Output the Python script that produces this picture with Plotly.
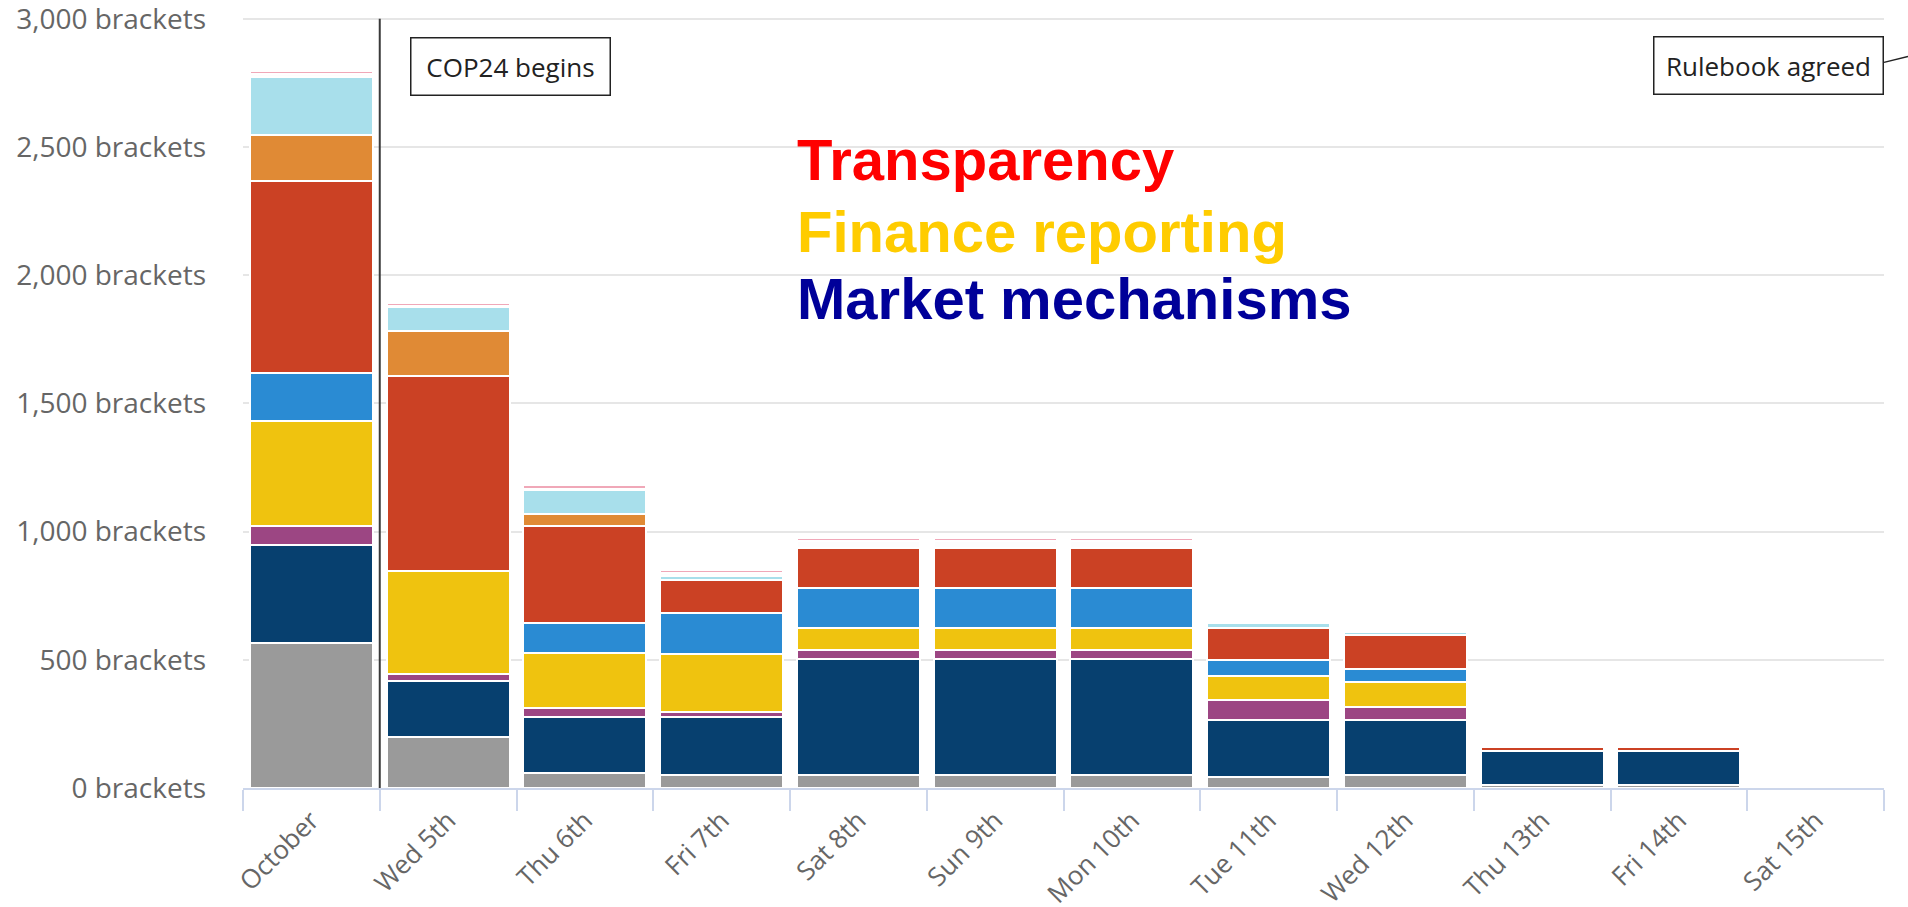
import plotly.graph_objects as go

categories = ["October", "Wed 5th", "Thu 6th", "Fri 7th", "Sat 8th", "Sun 9th",
              "Mon 10th", "Tue 11th", "Wed 12th", "Thu 13th", "Fri 14th", "Sat 15th"]

# stacked segments, bottom to top (brackets)
grey       = [564, 200, 60, 51, 51, 51, 51, 42, 51, 10, 10, 0]
navy       = [383, 217, 218, 224, 452, 452, 452, 223, 214, 134, 134, 0]
purple     = [75, 27, 36, 20, 37, 37, 37, 78, 52, 0, 0, 0]
yellow     = [409, 403, 211, 227, 86, 86, 86, 93, 95, 0, 0, 0]
blue       = [186, 0, 119, 161, 156, 156, 156, 63, 54, 0, 0, 0]
red        = [752, 759, 377, 130, 156, 156, 156, 127, 130, 15, 15, 0]
orange     = [178, 175, 49, 0, 0, 0, 0, 0, 0, 0, 0, 0]
lightblue  = [228, 95, 94, 12, 0, 0, 0, 16, 13, 0, 0, 0]
blank      = [10, 4, 4, 14, 24, 24, 24, 0, 0, 0, 0, 0]
pink       = [13, 12, 12, 12, 14, 14, 14, 0, 0, 0, 0, 0]

series = [
    ("Other", grey, "#9a9a9a"),
    ("Market mechanisms", navy, "#07406f"),
    ("Purple", purple, "#9c4683"),
    ("Finance reporting", yellow, "#efc30f"),
    ("Blue", blue, "#2a8bd3"),
    ("Transparency", red, "#cb4124"),
    ("Orange", orange, "#e08a35"),
    ("Light blue", lightblue, "#a8dfeb"),
    ("Blank", blank, "#fdfdfd"),
    ("Pink", pink, "#f0a8b8"),
]

y_ticks = [0, 500, 1000, 1500, 2000, 2500, 3000]
y_tick_text = [f"{v:,} brackets" for v in y_ticks]

fig = go.Figure()
for name, vals, col in series:
    fig.add_trace(go.Bar(
        x=categories, y=vals, name=name,
        marker=dict(color=col, line=dict(color="white", width=2)),
    ))

W, H = 1908, 907
ml, mr, mt, mb = 243, 24, 14.6, 119
pw = W - ml - mr
ph = H - mt - mb

def py(ypage):
    return (H - mb - ypage) / ph

def px(xpage):
    return (xpage - ml) / pw

tick_font = dict(family="Open Sans, sans-serif", size=28, color="#666666")

fig.update_layout(
    width=W, height=H,
    margin=dict(l=ml, r=mr, t=mt, b=mb, pad=0, autoexpand=False),
    barmode="stack",
    bargap=0.1,
    plot_bgcolor="white",
    paper_bgcolor="white",
    showlegend=False,
    font=dict(family="Open Sans, sans-serif", color="#333333"),
    xaxis=dict(
        type="category",
        categoryorder="array", categoryarray=categories,
        tickangle=-45,
        tickfont=dict(family="Open Sans, sans-serif", size=26, color="#666666"),
        ticks="outside", tickson="boundaries", ticklen=21, tickwidth=1.5,
        tickcolor="#ccd6eb",
        ticklabelstandoff=5,
        showline=True, linecolor="#ccd6eb", linewidth=1.5,
        showgrid=False, automargin=False,
        range=[-0.5, 11.5],
    ),
    yaxis=dict(
        range=[0, 3015],
        tickvals=y_ticks, ticktext=y_tick_text,
        tickfont=tick_font,
        ticklabelstandoff=36,
        ticklabeloverflow="allow",
        showgrid=True, gridcolor="#e6e6e6", gridwidth=1.5,
        zeroline=False, automargin=False,
        showline=False,
    ),
)

# COP24 begins marker line
fig.add_shape(type="line", xref="x", yref="y", x0=0.5, x1=0.5, y0=0, y1=3000,
              line=dict(color="#3a3a3a", width=2))

box_font = dict(family="Open Sans, sans-serif", size=26, color="#222222")
fig.add_annotation(
    xref="x", yref="paper", x=0.5, y=py(66), xanchor="left", yanchor="middle",
    xshift=30, text="COP24 begins", showarrow=False, font=box_font,
    bgcolor="white", bordercolor="#222222", borderwidth=1.5, borderpad=3,
    width=192, height=50,
)
fig.add_annotation(
    xref="paper", yref="paper", x=1.0, y=py(65), xanchor="right", yanchor="middle",
    text="Rulebook agreed", showarrow=False, font=box_font,
    bgcolor="white", bordercolor="#222222", borderwidth=1.5, borderpad=3,
    width=222, height=50,
)
fig.add_shape(type="line", xref="paper", yref="paper",
              x0=1.0, x1=px(1908), y0=py(62), y1=py(56),
              line=dict(color="#222222", width=1.5))

big = [("Transparency", "#ff0000", 159),
       ("Finance reporting", "#ffcc00", 231),
       ("Market mechanisms", "#000099", 298)]
for txt, col, ypix in big:
    fig.add_annotation(
        xref="paper", yref="paper", x=px(795), y=py(ypix),
        xanchor="left", yanchor="middle", text=f"<b>{txt}</b>", showarrow=False,
        font=dict(family="Liberation Sans, Arial, sans-serif", size=58, color=col),
    )

fig.write_html("out.html", config={"displayModeBar": False},
               post_script="document.body.style.margin='0';")
